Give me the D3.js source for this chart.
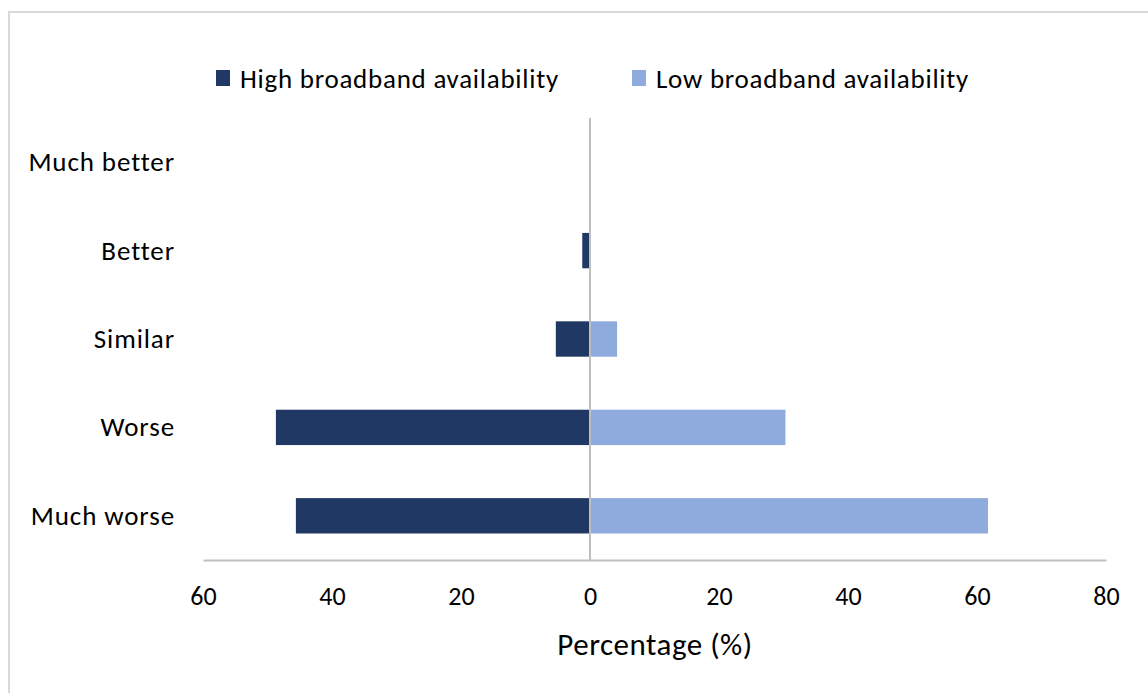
<!DOCTYPE html>
<html>
<head>
<meta charset="utf-8">
<script src="https://cdn.jsdelivr.net/npm/d3@7"></script>
<style>
  html, body { margin: 0; padding: 0; background: #fff; }
  svg text { font-family: Carlito, Calibri, Lato, sans-serif; fill: #000; }
</style>
</head>
<body>
<svg id="chart" width="1148" height="693"></svg>
<script>
// Categories (top to bottom) and the two series, in percent
const categories = ["Much better", "Better", "Similar", "Worse", "Much worse"];
const highValues = [0, 1.2, 5.3, 48.7, 45.6];
const lowValues = [0, 0, 4.2, 30.3, 61.7];
const seriesNames = ["High broadband availability", "Low broadband availability"];
const seriesColors = ["#1f3864", "#8faadc"];
const xTicks = [-60, -40, -20, 0, 20, 40, 60, 80];

const svg = d3.select("#chart");

// outer frame
svg.append("rect")
  .attr("x", 9).attr("y", 12)
  .attr("width", 1160).attr("height", 700)
  .attr("fill", "none").attr("stroke", "#d9d9d9").attr("stroke-width", 2);

const x = d3.scaleLinear().domain([-60, 80]).range([203, 1106]);
const y = d3.scaleBand().domain(categories).range([118, 560]).paddingInner(0.6).paddingOuter(0.3);

// High availability bars extend to the left of zero, low to the right
const rows = categories.map((c, i) => ({ c, high: highValues[i], low: lowValues[i] }));

svg.append("g").selectAll("rect")
  .data(rows.filter(d => d.high > 0))
  .join("rect")
  .attr("x", d => x(-d.high))
  .attr("y", d => y(d.c))
  .attr("width", d => x(0) - x(-d.high))
  .attr("height", y.bandwidth())
  .attr("fill", seriesColors[0]);

svg.append("g").selectAll("rect")
  .data(rows.filter(d => d.low > 0))
  .join("rect")
  .attr("x", x(0))
  .attr("y", d => y(d.c))
  .attr("width", d => x(d.low) - x(0))
  .attr("height", y.bandwidth())
  .attr("fill", seriesColors[1]);

// vertical zero line
svg.append("line")
  .attr("x1", x(0)).attr("x2", x(0))
  .attr("y1", 118).attr("y2", 560)
  .attr("stroke", "#bfbfbf").attr("stroke-width", 2);

// category labels
svg.append("g").selectAll("text")
  .data(categories)
  .join("text")
  .attr("x", 175)
  .attr("y", d => y(d) + y.bandwidth() / 2)
  .attr("dy", "0.33em")
  .attr("text-anchor", "end")
  .attr("font-size", 27)
  .attr("letter-spacing", 0.9)
  .text(d => d);

// x axis
const xAxis = d3.axisBottom(x)
  .tickValues(xTicks)
  .tickSize(0)
  .tickPadding(27)
  .tickFormat(d => Math.abs(d));

const gx = svg.append("g").attr("transform", "translate(0,560)").call(xAxis);
gx.select(".domain").attr("stroke", "#bfbfbf").attr("stroke-width", 2);
gx.selectAll("text")
  .attr("font-size", 26)
  .attr("font-family", null)
  .attr("fill", "#000");

svg.append("text")
  .attr("x", 655).attr("y", 655)
  .attr("text-anchor", "middle")
  .attr("font-size", 31)
  .attr("letter-spacing", 0.5)
  .text("Percentage (%)");

// legend
const legendX = [216, 632];
const lg = svg.append("g").selectAll("g")
  .data(seriesNames)
  .join("g")
  .attr("transform", (d, i) => `translate(${legendX[i]},70)`);
lg.append("rect").attr("width", 14).attr("height", 16).attr("fill", (d, i) => seriesColors[i]);
lg.append("text")
  .attr("x", 24).attr("y", 8).attr("dy", "0.38em")
  .attr("font-size", 27)
  .attr("letter-spacing", 0.75)
  .text(d => d);
</script>
</body>
</html>
